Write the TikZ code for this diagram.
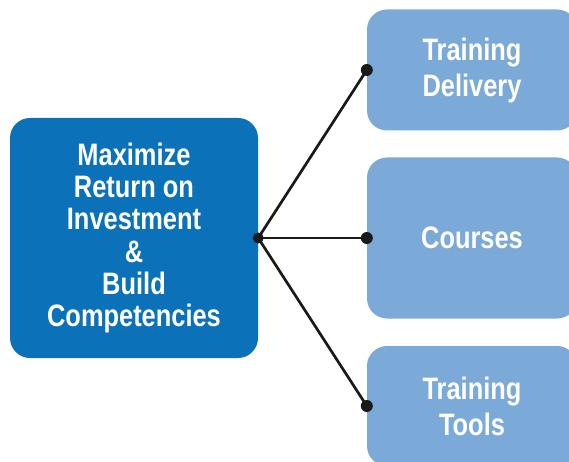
\documentclass[tikz,border=0pt]{standalone}
\usepackage{fontspec}
\newfontfamily\boxfont[FakeStretch=0.82]{Liberation Sans}
\usetikzlibrary{positioning}
\definecolor{goalblue}{RGB}{11,114,186}
\definecolor{areablue}{RGB}{123,169,216}
\tikzset{>=latex}

\begin{document}
\begin{tikzpicture}[x=1pt,y=-1pt]
        \tikzset{
        goal/.style={rectangle, rounded corners=20pt, fill=goalblue, text=white, align=center,
          font=\boxfont\bfseries\fontsize{31}{32.3}\selectfont, minimum width=248pt, minimum height=240pt},
        area/.style={rectangle, rounded corners=20pt, fill=areablue, text=white, align=center,
          font=\boxfont\bfseries\fontsize{31}{36}\selectfont, minimum width=210pt},
        dot/.style={circle,fill=black!90,minimum size=12pt,inner sep=0pt},
        link/.style={draw=black!90,line width=2.7pt},
        }
        \clip (0,0) rectangle (569,462);

        % Goal on the left.
        \node[goal] (roi) at (134,238) {Maximize\\Return on\\Investment\\\&\\Build\\Competencies};

        % Areas on the right.
        \node[area, minimum height=121pt] (delivery) at (472,70)  {Training\\Delivery};
        \node[area, minimum height=161pt] (courses)  at (472,238) {Courses};
        \node[area, minimum height=120pt] (tools)    at (472,406) {Training\\Tools};

        \draw[link] (roi.east) -- (delivery.west);
        \draw[link] (roi.east) -- (courses.west);
        \draw[link] (roi.east) -- (tools.west);

        \node[dot, minimum size=11pt] (hub) at (roi.east) {};
        \node[dot] (d1) at (delivery.west) {};
        \node[dot] (d2) at (courses.west)  {};
        \node[dot] (d3) at (tools.west)    {};
      \end{tikzpicture}
\end{document}
